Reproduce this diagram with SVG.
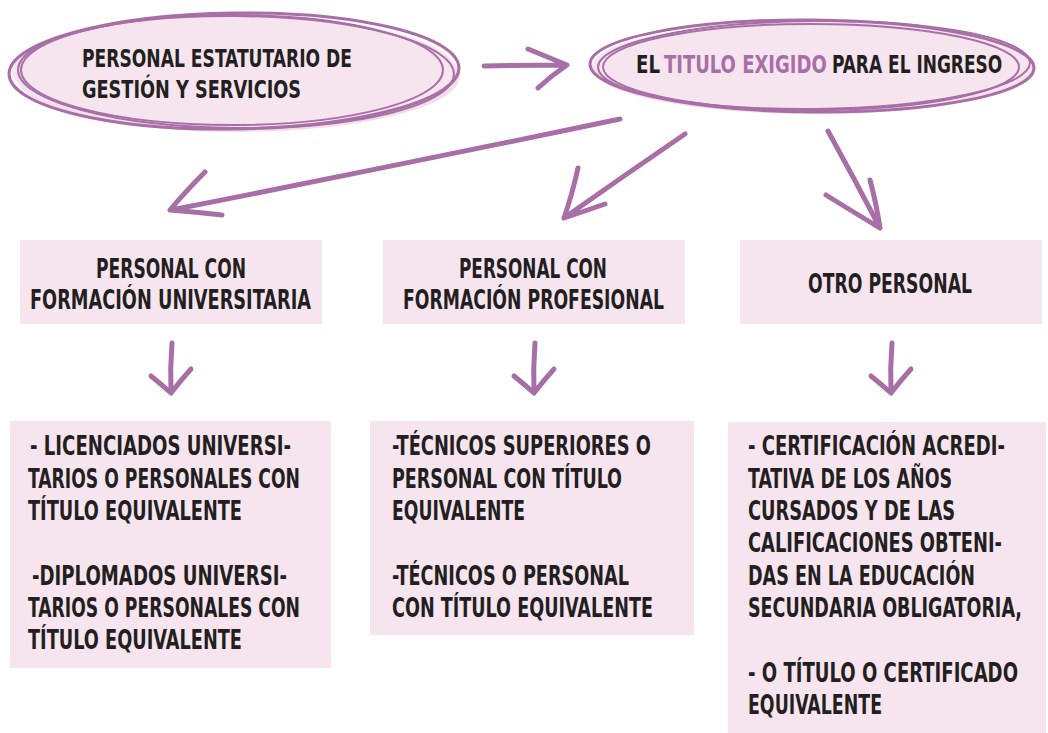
<svg xmlns="http://www.w3.org/2000/svg" width="1048" height="733" viewBox="0 0 1048 733">
<style>
.box{fill:#f6e5ef}
.ell{fill:none;stroke:#a86fa7}
.arr{fill:none;stroke:#a86fa7;stroke-width:5;stroke-linecap:round;stroke-linejoin:round}
.t{font-family:"DejaVu Sans Condensed","DejaVu Sans",sans-serif;font-weight:bold;font-size:27px;fill:#231f20}
.h{font-size:25px}
.p{fill:#a86fa7}
</style>
<rect width="1048" height="733" fill="#fff"/>
<g id="n1">
<ellipse cx="238" cy="76" rx="222" ry="56" fill="#f3dfeb"/>
<ellipse cx="234" cy="71" rx="222" ry="56" fill="#f6e5ef"/>
<ellipse class="ell" cx="234" cy="71" rx="225" ry="58" stroke-width="3" transform="rotate(-0.8 234 71)"/>
<ellipse class="ell" cx="236" cy="72" rx="218" ry="56" stroke-width="2" transform="rotate(0.6 234 71)"/>
<ellipse class="ell" cx="232" cy="70" rx="211" ry="55" stroke-width="2"/>
<text class="t h" transform="matrix(0.75 0 0 1 82 67)" textLength="360" lengthAdjust="spacingAndGlyphs">PERSONAL ESTATUTARIO DE</text>
<text class="t h" transform="matrix(0.75 0 0 1 82 98)" textLength="292" lengthAdjust="spacingAndGlyphs">GESTIÓN Y SERVICIOS</text>
</g>
<g id="n2">
<ellipse cx="815" cy="70" rx="220" ry="44" fill="#f3dfeb"/>
<ellipse cx="812" cy="66" rx="220" ry="44" fill="#f6e5ef"/>
<ellipse class="ell" cx="812" cy="66" rx="222" ry="46" stroke-width="3" transform="rotate(0.5 812 66)"/>
<ellipse class="ell" cx="814" cy="65" rx="216" ry="44" stroke-width="2" transform="rotate(-0.6 812 66)"/>
<ellipse class="ell" cx="811" cy="67" rx="208" ry="43" stroke-width="2"/>
<text class="t h" transform="matrix(0.75 0 0 1 636 73)" textLength="32" lengthAdjust="spacingAndGlyphs">EL</text>
<text class="t h p" transform="matrix(0.75 0 0 1 664 73)" textLength="217" lengthAdjust="spacingAndGlyphs">TITULO EXIGIDO</text>
<text class="t h" transform="matrix(0.75 0 0 1 832 73)" textLength="227" lengthAdjust="spacingAndGlyphs">PARA EL INGRESO</text>
</g>
<g id="connectors">
<path class="arr" d="M484 66 Q525 65 566 65 M528 49 Q550 58 567 65 Q552 75 538 88"/>
<path class="arr" d="M620 119 Q400 165 171 210 M205 172 Q185 192 170 210 Q195 212 222 215" stroke-width="5.5"/>
<path class="arr" d="M685 134 Q625 175 564 218 M578 168 Q572 195 564 218 Q585 211 605 204"/>
<path class="arr" d="M828 131 Q855 180 880 228 M826 195 Q855 213 880 228 Q876 202 870 180"/>
<path class="arr" d="M172 343 Q170 368 171 393 M151 376 Q162 385 171 393 Q181 380 191 369" stroke-width="4"/>
<path class="arr" d="M535 343 Q533 368 534 393 M514 376 Q525 385 534 393 Q544 380 554 369" stroke-width="4"/>
<path class="arr" d="M892 343 Q890 368 891 393 M871 376 Q882 385 891 393 Q901 380 911 369" stroke-width="4"/>
</g>
<g id="b1">
<rect class="box" x="20" y="240" width="302" height="84"/>
<text class="t" transform="matrix(0.75 0 0 1 96 278)" textLength="200" lengthAdjust="spacingAndGlyphs">PERSONAL CON</text>
<text class="t" transform="matrix(0.75 0 0 1 30 309)" textLength="374.7" lengthAdjust="spacingAndGlyphs">FORMACIÓN UNIVERSITARIA</text>
</g>
<g id="b2">
<rect class="box" x="383" y="240" width="302" height="84"/>
<text class="t" transform="matrix(0.75 0 0 1 459 278)" textLength="197.3" lengthAdjust="spacingAndGlyphs">PERSONAL CON</text>
<text class="t" transform="matrix(0.75 0 0 1 403 309)" textLength="348" lengthAdjust="spacingAndGlyphs">FORMACIÓN PROFESIONAL</text>
</g>
<g id="b3">
<rect class="box" x="740" y="240" width="302" height="84"/>
<text class="t" transform="matrix(0.75 0 0 1 808 293)" textLength="218.7" lengthAdjust="spacingAndGlyphs">OTRO PERSONAL</text>
</g>
<g id="b4">
<rect class="box" x="10" y="421" width="321" height="247"/>
<text class="t" transform="matrix(0.75 0 0 1 30 455)" textLength="348" lengthAdjust="spacingAndGlyphs">- LICENCIADOS UNIVERSI-</text>
<text class="t" transform="matrix(0.75 0 0 1 28 488)" textLength="362.7" lengthAdjust="spacingAndGlyphs">TARIOS O PERSONALES CON</text>
<text class="t" transform="matrix(0.75 0 0 1 28 520)" textLength="285.3" lengthAdjust="spacingAndGlyphs">TÍTULO EQUIVALENTE</text>
<text class="t" transform="matrix(0.75 0 0 1 32 585)" textLength="340" lengthAdjust="spacingAndGlyphs">-DIPLOMADOS UNIVERSI-</text>
<text class="t" transform="matrix(0.75 0 0 1 28 617)" textLength="362.7" lengthAdjust="spacingAndGlyphs">TARIOS O PERSONALES CON</text>
<text class="t" transform="matrix(0.75 0 0 1 28 649)" textLength="285.3" lengthAdjust="spacingAndGlyphs">TÍTULO EQUIVALENTE</text>
</g>
<g id="b5">
<rect class="box" x="370" y="421" width="324" height="214"/>
<text class="t" transform="matrix(0.75 0 0 1 392 455)" textLength="345.3" lengthAdjust="spacingAndGlyphs">-TÉCNICOS SUPERIORES O</text>
<text class="t" transform="matrix(0.75 0 0 1 392 488)" textLength="306.7" lengthAdjust="spacingAndGlyphs">PERSONAL CON TÍTULO</text>
<text class="t" transform="matrix(0.75 0 0 1 392 520)" textLength="177.3" lengthAdjust="spacingAndGlyphs">EQUIVALENTE</text>
<text class="t" transform="matrix(0.75 0 0 1 392 585)" textLength="316" lengthAdjust="spacingAndGlyphs">-TÉCNICOS O PERSONAL</text>
<text class="t" transform="matrix(0.75 0 0 1 392 617)" textLength="348" lengthAdjust="spacingAndGlyphs">CON TÍTULO EQUIVALENTE</text>
</g>
<g id="b6">
<rect class="box" x="728" y="422" width="318" height="311"/>
<text class="t" transform="matrix(0.75 0 0 1 748 455)" textLength="342.7" lengthAdjust="spacingAndGlyphs">- CERTIFICACIÓN ACREDI-</text>
<text class="t" transform="matrix(0.75 0 0 1 748 488)" textLength="272" lengthAdjust="spacingAndGlyphs">TATIVA DE LOS AÑOS</text>
<text class="t" transform="matrix(0.75 0 0 1 748 520)" textLength="276" lengthAdjust="spacingAndGlyphs">CURSADOS Y DE LAS</text>
<text class="t" transform="matrix(0.75 0 0 1 748 552)" textLength="338.7" lengthAdjust="spacingAndGlyphs">CALIFICACIONES OBTENI-</text>
<text class="t" transform="matrix(0.75 0 0 1 748 585)" textLength="302.7" lengthAdjust="spacingAndGlyphs">DAS EN LA EDUCACIÓN</text>
<text class="t" transform="matrix(0.75 0 0 1 748 617)" textLength="365.3" lengthAdjust="spacingAndGlyphs">SECUNDARIA OBLIGATORIA,</text>
<text class="t" transform="matrix(0.75 0 0 1 748 682)" textLength="360" lengthAdjust="spacingAndGlyphs">- O TÍTULO O CERTIFICADO</text>
<text class="t" transform="matrix(0.75 0 0 1 748 714)" textLength="178.7" lengthAdjust="spacingAndGlyphs">EQUIVALENTE</text>
</g>
</svg>
